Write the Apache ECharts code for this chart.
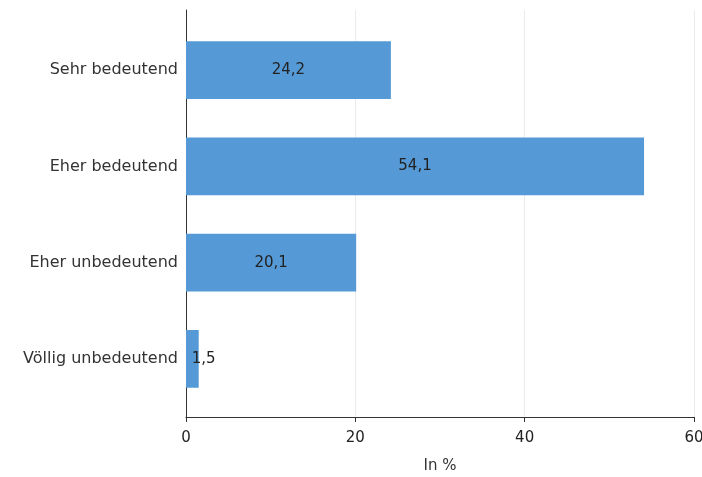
<!DOCTYPE html>
<html>
<head>
<meta charset="utf-8">
<script src="https://cdn.jsdelivr.net/npm/echarts@6/dist/echarts.min.js"></script>
<style>html,body{margin:0;padding:0;background:#fff}#c{width:702px;height:477px}</style>
</head>
<body>
<div id="c"></div>
<script>
const categories = ["Sehr bedeutend", "Eher bedeutend", "Eher unbedeutend", "Völlig unbedeutend"];
const values = [24.2, 54.1, 20.1, 1.5];
const xTicks = [0, 20, 40, 60];
const axisTitle = "In %";

const FONT = "'DejaVu Sans', sans-serif";
const chart = echarts.init(document.getElementById('c'));
const fmt = v => String(v).replace('.', ',');
const data = values.map(v => v < 5 ? {
  value: v,
  label: { position: 'right', distance: -7 }
} : v);

chart.setOption({
  animation: false,
  grid: [
    { left: 186, right: 8, top: 10, bottom: 60, outerBoundsMode: 'none', containLabel: false },
    { left: 186, right: 8, top: 22, bottom: 70, outerBoundsMode: 'none', containLabel: false }
  ],
  xAxis: [
    {
      gridIndex: 0, type: 'value', min: xTicks[0], max: xTicks[xTicks.length - 1], interval: 20,
      axisLine: { show: true, lineStyle: { color: '#333', width: 1 } },
      axisTick: { show: true, length: 5, lineStyle: { color: '#333' } },
      axisLabel: { color: '#222', fontSize: 15, fontFamily: FONT, margin: 14 },
      splitLine: { show: true, lineStyle: { color: '#ebebeb' } },
      name: axisTitle, nameLocation: 'middle', nameGap: 42,
      nameTextStyle: { color: '#333', fontSize: 15, fontFamily: FONT }
    },
    {
      gridIndex: 1, type: 'value', min: 0, max: 60, show: false
    }
  ],
  yAxis: [
    {
      gridIndex: 0, type: 'value', min: 0, max: 1,
      axisLine: { show: true, lineStyle: { color: '#333', width: 1 } },
      axisTick: { show: false }, axisLabel: { show: false }, splitLine: { show: false }
    },
    {
      gridIndex: 1, type: 'category', data: categories, inverse: true,
      axisLine: { show: false }, axisTick: { show: false },
      axisLabel: { color: '#333', fontSize: 16, fontFamily: FONT, margin: 8 }
    }
  ],
  series: [{
    type: 'bar',
    xAxisIndex: 1, yAxisIndex: 1,
    data: data,
    barCategoryGap: '40%',
    itemStyle: { color: '#559ad6' },
    label: {
      show: true, position: 'inside', color: '#222', fontSize: 15, fontFamily: FONT,
      formatter: p => fmt(p.value)
    }
  }]
});
</script>
</body>
</html>
